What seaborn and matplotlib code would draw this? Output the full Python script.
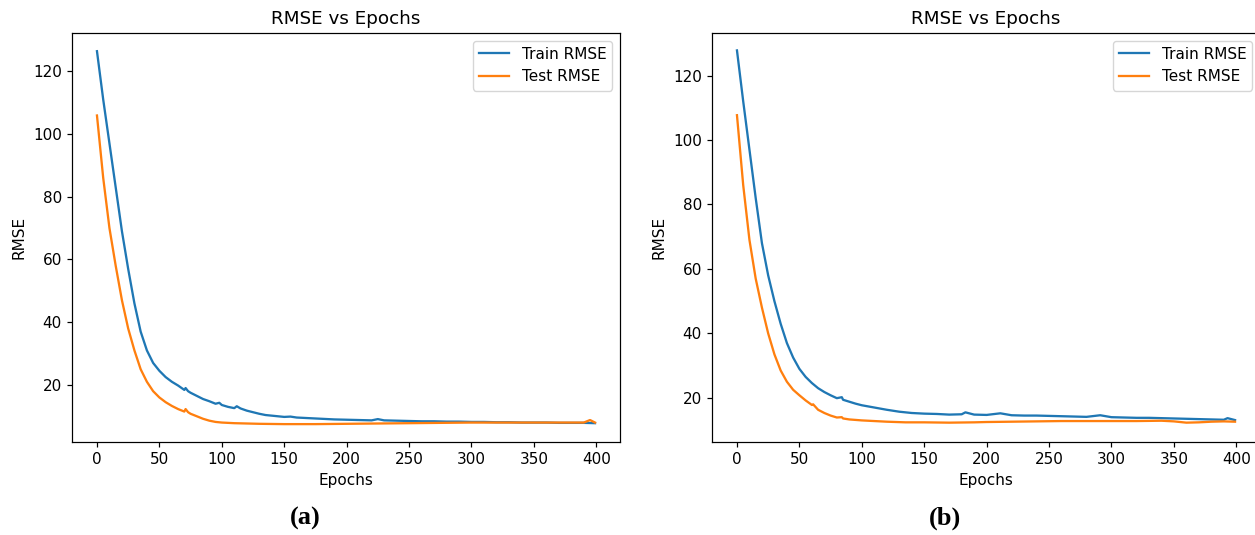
import matplotlib
matplotlib.use("Agg")
import matplotlib.pyplot as plt
import seaborn as sns
import pandas as pd

# ---------------- Panel (a) ----------------
epochs_a_train = [0, 5, 10, 15, 20, 25, 30, 35, 40, 45, 50, 55, 60, 65, 70, 71, 73, 75, 80, 85, 90, 95,
                  98, 100, 105, 110, 112, 115, 120, 125, 130, 135, 140, 145, 150, 155, 160, 170, 180,
                  190, 200, 210, 220, 225, 230, 240, 250, 260, 270, 280, 290, 300, 310, 320, 330, 340,
                  350, 360, 370, 380, 390, 399]
train_a = [126.4, 111, 97, 83, 69, 57, 46, 37, 31, 27, 24.5, 22.5, 21, 19.8, 18.4, 19.0, 18.0, 17.5,
           16.5, 15.5, 14.8, 14.0, 14.3, 13.6, 13.0, 12.6, 13.2, 12.5, 11.8, 11.3, 10.8, 10.4, 10.2,
           10.0, 9.8, 9.9, 9.6, 9.4, 9.2, 9.0, 8.9, 8.8, 8.7, 9.1, 8.7, 8.6, 8.5, 8.4, 8.4, 8.3, 8.3,
           8.2, 8.2, 8.1, 8.1, 8.0, 8.0, 8.0, 7.9, 7.9, 7.9, 7.8]

epochs_a_test = [0, 5, 10, 15, 20, 25, 30, 35, 40, 45, 50, 55, 60, 65, 70, 71, 73, 75, 80, 85, 90, 95,
                 100, 110, 120, 130, 150, 175, 200, 225, 250, 275, 300, 325, 350, 375, 390, 395, 399]
test_a = [105.9, 86, 70, 58, 47, 38, 31, 25, 21, 18, 16, 14.5, 13.3, 12.3, 11.5, 12.3, 11.3, 10.8,
          10.0, 9.2, 8.6, 8.2, 8.0, 7.8, 7.7, 7.6, 7.5, 7.5, 7.6, 7.7, 7.8, 7.9, 8.0, 8.0, 8.0, 8.0,
          8.0, 8.8, 8.0]

# ---------------- Panel (b) ----------------
epochs_b_train = [0, 5, 10, 15, 20, 25, 30, 35, 40, 45, 50, 55, 60, 65, 70, 75, 80, 84, 85, 90, 95,
                  100, 110, 120, 130, 140, 150, 160, 170, 180, 183, 190, 200, 211, 220, 230, 240, 250,
                  260, 270, 280, 291, 300, 310, 320, 330, 340, 350, 360, 370, 380, 390, 393, 399]
train_b = [127.8, 112, 97, 82, 68, 58, 50, 43, 37, 32.5, 29, 26.5, 24.6, 23, 21.8, 20.8, 19.9, 20.2,
           19.4, 18.8, 18.2, 17.7, 17.0, 16.3, 15.7, 15.3, 15.1, 15.0, 14.8, 14.9, 15.5, 14.8, 14.7,
           15.2, 14.6, 14.5, 14.5, 14.4, 14.3, 14.2, 14.1, 14.6, 14.0, 13.9, 13.8, 13.8, 13.7, 13.6,
           13.5, 13.4, 13.3, 13.2, 13.7, 13.1]

epochs_b_test = [0, 5, 10, 15, 20, 25, 30, 35, 40, 45, 50, 55, 60, 61, 65, 70, 75, 80, 84, 85, 90,
                 100, 110, 120, 135, 150, 170, 190, 200, 220, 240, 260, 280, 300, 320, 340, 350, 360,
                 370, 380, 390, 399]
test_b = [107.7, 86, 69, 57, 48, 40, 33.5, 28.5, 25, 22.5, 20.8, 19.2, 17.8, 18.0, 16.3, 15.3, 14.5,
          13.9, 14.0, 13.6, 13.3, 13.0, 12.8, 12.6, 12.4, 12.4, 12.3, 12.4, 12.5, 12.6, 12.7, 12.8,
          12.8, 12.8, 12.8, 12.9, 12.7, 12.3, 12.4, 12.6, 12.7, 12.6]

title_text = "RMSE vs Epochs"
x_label = "Epochs"
y_label = "RMSE"
train_label = "Train RMSE"
test_label = "Test RMSE"
panel_labels = ["(a)", "(b)"]

BLUE = "#1f77b4"
ORANGE = "#ff7f0e"
S = 1.1  # the reference appears rendered ~10% larger

plt.rcParams.update({
    "xtick.major.size": 3.5 * S,
    "ytick.major.size": 3.5 * S,
    "axes.linewidth": 0.8 * S,
    "xtick.major.width": 0.8 * S,
    "ytick.major.width": 0.8 * S,
    "axes.labelpad": 4.0 * S,
    "axes.titlepad": 6.0 * S,
})

fig = plt.figure(figsize=(12.55, 5.35), dpi=100)
ax_a = fig.add_axes([72 / 1255, 1 - 442 / 535, 548 / 1255, 409 / 535])
ax_b = fig.add_axes([712 / 1255, 1 - 442 / 535, 548 / 1255, 409 / 535])

panels = [
    (ax_a, epochs_a_train, train_a, epochs_a_test, test_a),
    (ax_b, epochs_b_train, train_b, epochs_b_test, test_b),
]

for ax, ex_tr, y_tr, ex_te, y_te in panels:
    df_tr = pd.DataFrame({"Epoch": ex_tr, "RMSE": y_tr})
    df_te = pd.DataFrame({"Epoch": ex_te, "RMSE": y_te})
    sns.lineplot(data=df_tr, x="Epoch", y="RMSE", ax=ax, color=BLUE, label=train_label, linewidth=1.5 * S)
    sns.lineplot(data=df_te, x="Epoch", y="RMSE", ax=ax, color=ORANGE, label=test_label, linewidth=1.5 * S)
    ax.set_title(title_text, fontsize=12 * S)
    ax.set_xlabel(x_label, fontsize=10 * S)
    ax.set_ylabel(y_label, fontsize=10 * S)
    ax.set_xticks([0, 50, 100, 150, 200, 250, 300, 350, 400])
    ax.set_yticks([20, 40, 60, 80, 100, 120])
    ax.tick_params(labelsize=10 * S)
    ax.legend(loc="upper right", fontsize=10 * S)

ax_a.set_xlim(-20, 419)
ax_a.set_ylim(1.8, 132.2)
ax_b.set_xlim(-20, 419)
ax_b.set_ylim(6.3, 133.2)

fig.text(305 / 1255, 1 - 518 / 535, panel_labels[0], ha="center", va="center",
         fontsize=19, fontweight="bold", family="Liberation Serif")
fig.text(945 / 1255, 1 - 518 / 535, panel_labels[1], ha="center", va="center",
         fontsize=19, fontweight="bold", family="Liberation Serif")

fig.savefig("out.png", dpi=100)
